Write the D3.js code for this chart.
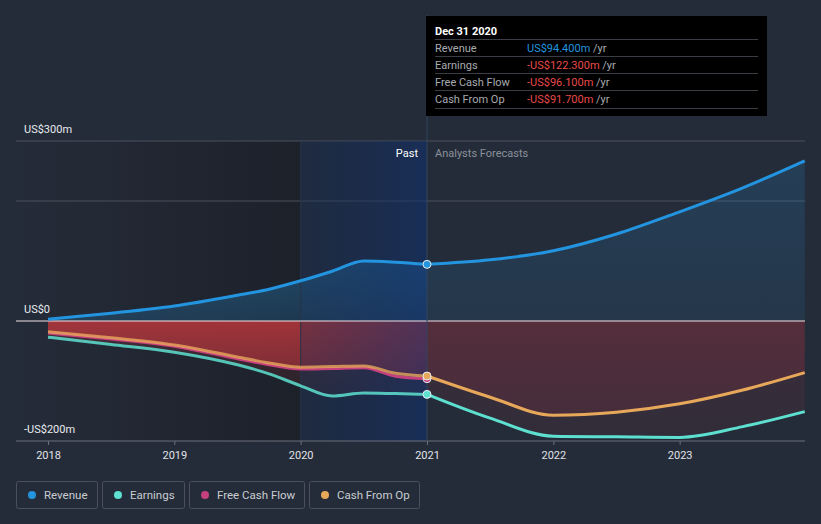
<!DOCTYPE html>
<html><head><meta charset="utf-8">
<script src="https://cdn.jsdelivr.net/npm/d3@7"></script>
<style>
html,body{margin:0;padding:0;background:#252c39;}
svg{display:block;font-family:Roboto,"Noto Sans",sans-serif;}
</style></head>
<body><svg id="c" width="821" height="524"></svg>
<script>
// ---- data ----
const pastYears = [2018, 2018.5, 2019, 2019.5, 2019.75, 2020, 2020.25, 2020.5, 2020.75, 2021];
const revenuePast = [3, 13, 25, 43, 53, 67, 83, 100, 98, 94.4];
const earningsPast = [-27, -39, -52, -73, -88, -108, -125, -120, -121, -122.3];
const fcfPast = [-20, -30, -42, -63, -73, -80, -79, -78, -92, -96.1];
const cfoPast = [-18, -28, -40, -60, -70, -77, -76, -75, -87, -91.7];

const foreYears = [2021, 2021.5, 2022, 2022.5, 2023, 2023.5, 2023.99];
const revenueFore = [94.4, 102, 117, 145, 182, 222, 267];
const earningsFore = [-122.3, -162, -192, -193, -194, -176, -151];
const cfoFore = [-91.7, -127, -157, -152, -138, -115, -86];

const xTicks = [2018, 2019, 2020, 2021, 2022, 2023];
const yLabels = [{v:300,t:"US$300m"},{v:0,t:"US$0"},{v:-200,t:"-US$200m"}];
const gridVals = [300, 200];

const tooltipTitle = "Dec 31 2020";
const tooltipRows = [
  {label:"Revenue", value:"US$94.400m", color:"#2394df"},
  {label:"Earnings", value:"-US$122.300m", color:"#e84a4a"},
  {label:"Free Cash Flow", value:"-US$96.100m", color:"#e84a4a"},
  {label:"Cash From Op", value:"-US$91.700m", color:"#e84a4a"}
];
const legendItems = [
  {name:"Revenue", color:"#2394df"},
  {name:"Earnings", color:"#5ee0d0"},
  {name:"Free Cash Flow", color:"#c4407e"},
  {name:"Cash From Op", color:"#e8a85a"}
];

// ---- layout ----
const svg = d3.select("#c");
const pL = 16, pR = 805, pT = 141, pB = 441;
const x = d3.scaleLinear().domain([2018, 2024]).range([48, 806]);
const y = d3.scaleLinear().domain([-200, 300]).range([pB, pT]);
const nowX = x(2021), bandX = x(2020);

const defs = svg.append("defs");
function lg(id, x1,y1,x2,y2, stops){
  const g = defs.append("linearGradient").attr("id",id)
    .attr("x1",x1).attr("y1",y1).attr("x2",x2).attr("y2",y2).attr("gradientUnits","userSpaceOnUse");
  stops.forEach(s=>g.append("stop").attr("offset",s[0]).attr("stop-color",s[1]).attr("stop-opacity",s[2]));
}
lg("pastBg", pL,0,bandX,0, [[0,"#1a1d25",0],[1,"#1a1d25",0.75]]);
lg("band", bandX,0,nowX,0, [[0,"#0f2850",0.3],[1,"#0f3070",0.55]]);
lg("revPast", 0,y(100),0,y(0), [[0,"#2394df",0.35],[1,"#2394df",0.2]]);
lg("revFore", 0,y(270),0,y(0), [[0,"#2394df",0.18],[1,"#2394df",0.1]]);
lg("redPast", 0,y(0),0,y(-130), [[0,"#c0383d",0.75],[1,"#a0303a",0.55]]);
lg("redPastDim", 0,y(0),0,y(-130), [[0,"#c0383d",0.22],[1,"#c0383d",0.08]]);
lg("redFore", 0,y(0),0,y(-200), [[0,"#a03040",0.25],[1,"#a03040",0.15]]);
lg("redForeDim", 0,y(0),0,y(-200), [[0,"#a03040",0.18],[1,"#a03040",0.1]]);

// past background
svg.append("rect").attr("x",pL).attr("y",pT).attr("width",bandX-pL).attr("height",pB-pT).attr("fill","url(#pastBg)");

// gridlines
svg.selectAll(".grid").data(gridVals).enter().append("line")
  .attr("x1",pL).attr("x2",pR).attr("y1",d=>y(d)).attr("y2",d=>y(d))
  .attr("stroke","#4a505c").attr("stroke-width",1);

const curve = d3.curveMonotoneX;
const zipP = (arr)=>pastYears.map((t,i)=>[t,arr[i]]);
const zipF = (arr)=>foreYears.map((t,i)=>[t,arr[i]]);
const area = d3.area().x(d=>x(d[0])).y0(y(0)).y1(d=>y(d[1])).curve(curve);
const line = d3.line().x(d=>x(d[0])).y(d=>y(d[1])).curve(curve);

// fills
svg.append("path").attr("d",area(zipP(revenuePast))).attr("fill","url(#revPast)");
svg.append("path").attr("d",area(zipF(revenueFore))).attr("fill","url(#revFore)");
svg.append("path").attr("d",area(zipP(earningsPast))).attr("fill","url(#redPastDim)");
svg.append("path").attr("d",area(zipP(cfoPast))).attr("fill","url(#redPast)");
svg.append("path").attr("d",area(zipF(earningsFore))).attr("fill","url(#redForeDim)");
svg.append("path").attr("d",area(zipF(cfoFore))).attr("fill","url(#redFore)");

// highlight band over fills
svg.append("rect").attr("x",bandX).attr("y",pT).attr("width",nowX-bandX).attr("height",pB-pT).attr("fill","url(#band)");
svg.append("line").attr("x1",bandX).attr("x2",bandX).attr("y1",pT).attr("y2",pB).attr("stroke","#26334a").attr("stroke-width",1);

// zero line
svg.append("line").attr("x1",pL).attr("x2",pR).attr("y1",y(0)).attr("y2",y(0)).attr("stroke","#f0e0e4").attr("stroke-width",1.2);

// axis
const xAxis = d3.axisBottom(x).tickValues(xTicks).tickFormat(d3.format("d")).tickSize(4).tickPadding(6);
const ax = svg.append("g").attr("transform",`translate(0,${pB})`).call(xAxis);
ax.select(".domain").remove();
ax.selectAll(".tick line").attr("stroke","#6a707c");
ax.selectAll(".tick text").attr("fill","#e0e3e8").attr("font-size",11).attr("font-family","Roboto,sans-serif");
svg.append("line").attr("x1",pL).attr("x2",pR).attr("y1",pB).attr("y2",pB).attr("stroke","#6a707c").attr("stroke-width",1);

// now line
svg.append("line").attr("x1",nowX).attr("x2",nowX).attr("y1",15).attr("y2",pB).attr("stroke","#33445e").attr("stroke-width",1);

// lines
const lw = 3;
svg.append("path").attr("d",line(zipP(fcfPast))).attr("fill","none").attr("stroke","#c4407e").attr("stroke-width",lw);
svg.append("path").attr("d",line(zipP(cfoPast))).attr("fill","none").attr("stroke","#e8a85a").attr("stroke-width",lw).attr("stroke-opacity",0.8);
svg.append("path").attr("d",line(zipF(cfoFore))).attr("fill","none").attr("stroke","#e8a85a").attr("stroke-width",lw);
svg.append("path").attr("d",line(zipP(earningsPast))).attr("fill","none").attr("stroke","#5ee0d0").attr("stroke-width",lw).attr("stroke-opacity",0.85);
svg.append("path").attr("d",line(zipF(earningsFore))).attr("fill","none").attr("stroke","#5ee0d0").attr("stroke-width",lw);
svg.append("path").attr("d",line(zipP(revenuePast))).attr("fill","none").attr("stroke","#2394df").attr("stroke-width",lw);
svg.append("path").attr("d",line(zipF(revenueFore))).attr("fill","none").attr("stroke","#2394df").attr("stroke-width",lw);

// points at now
const last = pastYears.length-1;
[[fcfPast[last],"#c4407e"],[cfoPast[last],"#e8a85a"],[earningsPast[last],"#5ee0d0"],[revenuePast[last],"#2394df"]].forEach(p=>{
  svg.append("circle").attr("cx",nowX).attr("cy",y(p[0])).attr("r",4).attr("fill",p[1]).attr("stroke","#e8ecf2").attr("stroke-width",1);
});

// y labels
svg.selectAll(".yl").data(yLabels).enter().append("text")
  .attr("x",24).attr("y",d=>y(d.v)-8).attr("fill","#e8ebef").attr("font-size",11).text(d=>d.t);

// past/forecast labels
svg.append("text").attr("x",nowX-9).attr("y",157).attr("text-anchor","end").attr("fill","#ffffff").attr("font-size",11).text("Past");
svg.append("text").attr("x",nowX+8).attr("y",157).attr("fill","#8a909a").attr("font-size",11).text("Analysts Forecasts");

// tooltip
const tt = svg.append("g");
tt.append("rect").attr("x",426).attr("y",16).attr("width",341).attr("height",100).attr("fill","#000000");
tt.append("text").attr("x",435).attr("y",35).attr("fill","#ffffff").attr("font-size",11).attr("font-weight","bold").text(tooltipTitle);
tooltipRows.forEach((r,i)=>{
  const by = 52 + i*17;
  tt.append("line").attr("x1",435).attr("x2",758).attr("y1",by-12.5).attr("y2",by-12.5).attr("stroke","#3a3d44");
  tt.append("text").attr("x",435).attr("y",by).attr("fill","#a8abb0").attr("font-size",11).text(r.label);
  const t = tt.append("text").attr("x",527).attr("y",by).attr("font-size",11);
  t.append("tspan").attr("fill",r.color).text(r.value);
  t.append("tspan").attr("fill","#a8abb0").text(" /yr");
});
tt.append("line").attr("x1",435).attr("x2",758).attr("y1",108.5).attr("y2",108.5).attr("stroke","#3a3d44");

// legend
const lgX = [16, 102, 189, 309], lgW = [81, 82, 115, 110];
legendItems.forEach((d,i)=>{
  const g = svg.append("g").attr("transform",`translate(${lgX[i]},481)`);
  g.append("rect").attr("x",0.5).attr("y",0.5).attr("width",lgW[i]).attr("height",27).attr("rx",2)
    .attr("fill","none").attr("stroke","#4a505c");
  g.append("circle").attr("cx",16).attr("cy",14).attr("r",4).attr("fill",d.color);
  g.append("text").attr("x",28).attr("y",18).attr("fill","#c8ccd2").attr("font-size",11.5).text(d.name);
});
</script></body></html>
